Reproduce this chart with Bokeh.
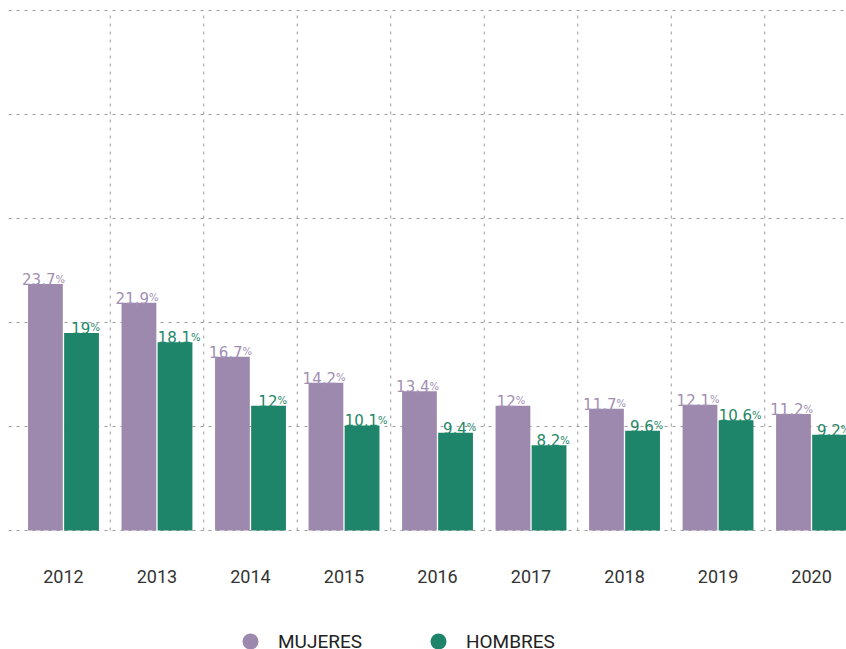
import numpy as np
from bokeh.plotting import figure
from bokeh.layouts import column
from bokeh.models import Range1d, FixedTicker, ColumnDataSource, Legend, LegendItem, Grid
from bokeh.core.properties import value
from bokeh.embed import file_html
from bokeh.resources import INLINE

# ---- data ----
years = ["2012", "2013", "2014", "2015", "2016", "2017", "2018", "2019", "2020"]
mujeres = [23.7, 21.9, 16.7, 14.2, 13.4, 12.0, 11.7, 12.1, 11.2]
hombres = [19.0, 18.1, 12.0, 10.1, 9.4, 8.2, 9.6, 10.6, 9.2]
y_ticks = [0, 10, 20, 30, 40, 50]
series_names = ["MUJERES", "HOMBRES"]

# ---- style ----
PURPLE = "#9E89AE"
GREEN = "#1E846A"
PURPLE_TXT = "#A28FB3"
GREEN_TXT = "#1F8769"
GRID = "#9C9C9C"
NUM_FONT = "DejaVu Sans"
NUM_FS = 15
PCT_FS = 10
OFF = 0.193
BW = 0.372

idx = np.arange(len(years))


def fmt(v):
    s = f"{v:.1f}".replace(".", ",")
    return s[:-2] if s.endswith(",0") else s


def num_width(s):
    return sum(0.318 if c == "," else 0.636 for c in s) * NUM_FS


PCT_W = 0.93 * PCT_FS


def label_source(xs, vals, dx):
    texts = [fmt(v) for v in vals]
    xoff = []
    for t in texts:
        w = num_width(t) + PCT_W
        xoff.append(dx + w / 2 - PCT_W)
    return ColumnDataSource(dict(x=list(xs), y=list(vals), text=texts,
                                 pct=["%"] * len(texts), xoff=xoff))


p = figure(width=846, height=600,
           x_range=Range1d(-0.588, 8.374), y_range=Range1d(-0.962, 50.96),
           min_border_left=8, min_border_right=0, min_border_top=0, min_border_bottom=60,
           toolbar_location=None, output_backend="svg", y_axis_location=None)
p.outline_line_color = None
p.background_fill_color = "white"
p.border_fill_color = "white"

# remove default grids, add own horizontal grid
p.center = [r for r in p.center if not isinstance(r, Grid)]
ygrid = Grid(dimension=1, ticker=FixedTicker(ticks=y_ticks),
             grid_line_color=GRID, grid_line_dash="3 5", grid_line_width=1)
p.add_layout(ygrid)

# vertical separators between year groups
bx = idx[:-1] + 0.5
p.segment(x0=bx, y0=[y_ticks[0]] * len(bx), x1=bx, y1=[y_ticks[-1]] * len(bx),
          line_color=GRID, line_dash="3 5", line_width=1)

# bars
src_m = ColumnDataSource(dict(x=idx - OFF, top=mujeres))
src_h = ColumnDataSource(dict(x=idx + OFF, top=hombres))
p.vbar(x="x", top="top", bottom=0, width=BW, source=src_m, fill_color=PURPLE, line_color=None)
p.vbar(x="x", top="top", bottom=0, width=BW, source=src_h, fill_color=GREEN, line_color=None)

# value labels
for src, col in ((label_source(idx - OFF, mujeres, -2), PURPLE_TXT),
                 (label_source(idx + OFF, hombres, 4), GREEN_TXT)):
    p.text(x="x", y="y", text="text", x_offset="xoff", y_offset=-5, source=src,
           text_align="right", text_baseline="alphabetic",
           text_font=value(NUM_FONT), text_font_size=f"{NUM_FS}px", text_color=col)
    p.text(x="x", y="y", text="pct", x_offset="xoff", y_offset=-5, source=src,
           text_align="left", text_baseline="alphabetic",
           text_font=value(NUM_FONT), text_font_size=f"{PCT_FS}px", text_color=col)

# x axis with year labels
ax = p.xaxis[0]
ax.ticker = FixedTicker(ticks=list(idx))
ax.major_label_overrides = {int(i): y for i, y in zip(idx, years)}
ax.axis_line_color = None
ax.major_tick_line_color = None
ax.minor_tick_line_color = None
ax.major_tick_out = 0
ax.major_tick_in = 0
ax.major_label_standoff = 29
ax.major_label_text_font = "Roboto"
ax.major_label_text_font_size = "18px"
ax.major_label_text_color = "#333333"

# legend strip below the chart
pl = figure(width=846, height=49, x_range=Range1d(0, 1), y_range=Range1d(0, 1),
            min_border_left=0, min_border_right=0, min_border_top=0, min_border_bottom=0,
            toolbar_location=None, output_backend="svg",
            x_axis_location=None, y_axis_location=None)
pl.outline_line_color = None
pl.grid.visible = False
pl.background_fill_color = "white"
pl.border_fill_color = "white"
nan = [float("nan")]
r_m = pl.scatter(x=nan, y=nan, marker="circle", size=16, fill_color=PURPLE, line_color=None)
r_h = pl.scatter(x=nan, y=nan, marker="circle", size=16, fill_color=GREEN, line_color=None)
legend = Legend(items=[LegendItem(label=series_names[0], renderers=[r_m]),
                       LegendItem(label=series_names[1], renderers=[r_h])],
                orientation="horizontal", location=(222, -12), padding=0, margin=0,
                spacing=56, label_standoff=8, glyph_width=40, glyph_height=40,
                label_text_font="Roboto", label_text_font_size="19px",
                label_text_color="#222222", border_line_color=None,
                background_fill_alpha=0)
pl.add_layout(legend)

layout = column(p, pl, spacing=0)
open("out.html", "w").write(file_html(layout, INLINE))
